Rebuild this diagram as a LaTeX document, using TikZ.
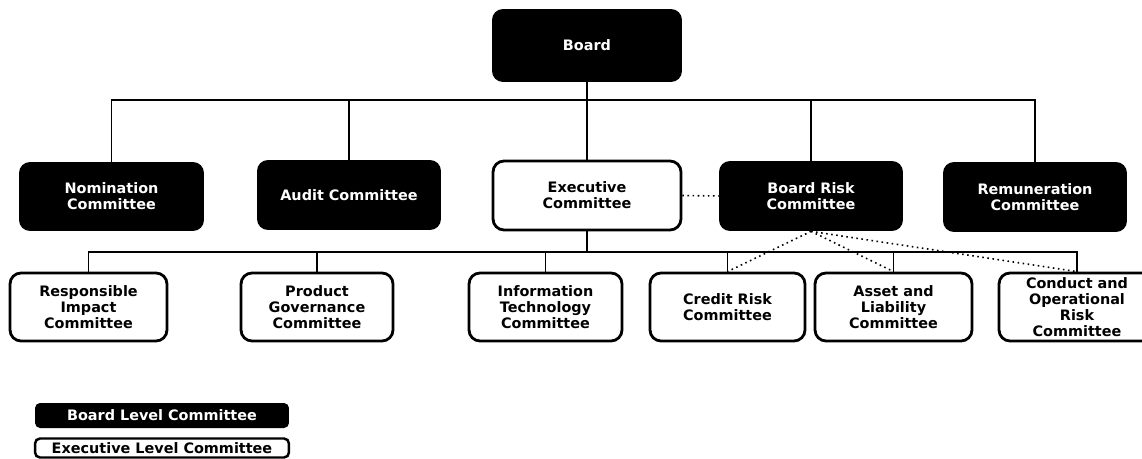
\documentclass[tikz,border=0pt]{standalone}
\usepackage{fontspec}
\setmainfont{DejaVu Sans}
\begin{document}
\begin{tikzpicture}[x=0.02cm,y=-0.02cm,
  bl/.style={fill=black, text=white, rounded corners=0.22cm, align=center, inner sep=0pt,
    font=\bfseries\fontsize{8.2}{9.2}\selectfont},
  ex/.style={draw=black, line width=1.6pt, fill=white, text=black, rounded corners=0.22cm, align=center, inner sep=0pt,
    font=\bfseries\fontsize{8.2}{9.2}\selectfont},
  conn/.style={line width=0.6pt},
  dot/.style={line width=0.9pt, dotted}]
\useasboundingbox (0,0) rectangle (1142,459);
\fill[white] (0,0) rectangle (1142,459);
% top
\node[bl, minimum width=3.8cm, minimum height=1.46cm] (board) at (587,45.5) {Board};
% row 2
\node[bl, minimum width=3.7cm, minimum height=1.38cm] (nom) at (111.5,196.5) {Nomination\\Committee};
\node[bl, minimum width=3.68cm, minimum height=1.4cm] (audit) at (349,195) {Audit Committee};
\node[ex, minimum width=3.76cm, minimum height=1.38cm] (exec) at (587,195.5) {Executive\\Committee};
\node[bl, minimum width=3.68cm, minimum height=1.4cm] (brisk) at (811,196) {Board Risk\\Committee};
\node[bl, minimum width=3.68cm, minimum height=1.4cm] (rem) at (1035,197) {Remuneration\\Committee};
% row 3
\node[ex, minimum width=3.14cm, minimum height=1.36cm] (resp) at (88.5,307) {Responsible\\Impact\\Committee};
\node[ex, minimum width=3.04cm, minimum height=1.36cm] (prod) at (317,307) {Product\\Governance\\Committee};
\node[ex, minimum width=3.06cm, minimum height=1.36cm] (it) at (545.5,307) {Information\\Technology\\Committee};
\node[ex, minimum width=3.1cm, minimum height=1.36cm] (credit) at (727.5,307) {Credit Risk\\Committee};
\node[ex, minimum width=3.14cm, minimum height=1.36cm] (asset) at (893.5,307) {Asset and\\Liability\\Committee};
\node[ex, minimum width=3.12cm, minimum height=1.36cm] (conduct) at (1077,307) {Conduct and\\Operational\\Risk\\Committee};
% connectors top bus
\coordinate (busT) at (587,100);
\draw[conn] (board.south) -- (busT);
\draw[conn] (nom.north) -- (nom.north |- busT) -| (rem.north);
\draw[conn] (audit.north) -- (audit.north |- busT);
\draw[conn] (exec.north) -- (exec.north |- busT);
\draw[conn] (brisk.north) -- (brisk.north |- busT);
% lower bus
\coordinate (busB) at (587,252);
\draw[conn] (exec.south) -- (busB);
\draw[conn] (resp.north) -- (resp.north |- busB) -| (conduct.north);
\draw[conn] (prod.north) -- (prod.north |- busB);
\draw[conn] (it.north) -- (it.north |- busB);
\draw[conn] (credit.north) -- (credit.north |- busB);
\draw[conn] (asset.north) -- (asset.north |- busB);
% dotted
\draw[dot] (exec.east) -- (brisk.west);
\draw[dot] (brisk.south) -- (credit.north);
\draw[dot] (brisk.south) -- (asset.north);
\draw[dot] (brisk.south) -- (conduct.north);
% legend
\node[bl, rounded corners=0.1cm, minimum width=5.08cm, minimum height=0.5cm] (lb) at (162,415.5) {Board Level Committee};
\node[ex, line width=1.4pt, rounded corners=0.1cm, minimum width=5.08cm, minimum height=0.38cm] (le) at (162,448) {Executive Level Committee};
\end{tikzpicture}
\end{document}
